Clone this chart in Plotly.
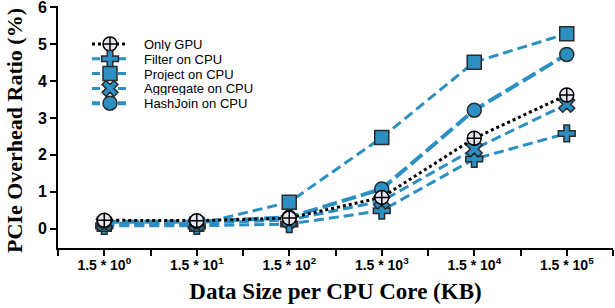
import plotly.graph_objects as go

categories = ["1.5 * 10<sup>0</sup>", "1.5 * 10<sup>1</sup>", "1.5 * 10<sup>2</sup>",
              "1.5 * 10<sup>3</sup>", "1.5 * 10<sup>4</sup>", "1.5 * 10<sup>5</sup>"]
x_pos = [0, 1, 2, 3, 4, 5]

only_gpu = [0.23, 0.22, 0.29, 0.85, 2.45, 3.62]
filter_cpu = [0.08, 0.08, 0.13, 0.49, 1.89, 2.58]
project_cpu = [0.12, 0.12, 0.72, 2.47, 4.51, 5.28]
aggregate_cpu = [0.15, 0.15, 0.24, 0.75, 2.16, 3.37]
hashjoin_cpu = [0.19, 0.19, 0.31, 1.08, 3.21, 4.72]

y_title = "PCIe Overhead Ratio (%)"
x_title = "Data Size per CPU Core (KB)"

BLUE = "#2b8fc2"
EDGE = "#2a2a2a"

series = [
    dict(name="Only GPU", y=only_gpu, color="black", symbol="circle-cross", dash="dot",
         width=3, fill="#e6e4ef", edge="black"),
    dict(name="Filter on CPU", y=filter_cpu, color=BLUE, symbol="cross", dash="10px,5px",
         width=3, fill=BLUE, edge=EDGE),
    dict(name="Project on CPU", y=project_cpu, color=BLUE, symbol="square", dash="10px,5px",
         width=3, fill=BLUE, edge=EDGE),
    dict(name="Aggregate on CPU", y=aggregate_cpu, color=BLUE, symbol="x", dash="10px,5px",
         width=3, fill=BLUE, edge=EDGE),
    dict(name="HashJoin on CPU", y=hashjoin_cpu, color=BLUE, symbol="circle", dash="15px,5px",
         width=4, fill=BLUE, edge=EDGE),
]

fig = go.Figure()

# data traces (Only GPU drawn last so it sits on top)
for s in series[1:] + series[:1]:
    fig.add_trace(go.Scatter(
        x=x_pos, y=s["y"], name=s["name"], mode="lines+markers", showlegend=False,
        line=dict(color=s["color"], width=s["width"], dash=s["dash"]),
        marker=dict(symbol=s["symbol"], size=14, color=s["fill"], line=dict(color=s["edge"], width=1.5)),
    ))

# compact legend drawn on an overlay axis measured in pixels of the figure
LEG_X0, LEG_XM, LEG_X1, LEG_TX = 92, 110, 128, 143
LEG_Y0, LEG_DY = 44, 14.8
for i, s in enumerate(series):
    yy = LEG_Y0 + i * LEG_DY
    fig.add_trace(go.Scatter(
        x=[LEG_X0, LEG_X1], y=[yy, yy], xaxis="x2", yaxis="y2",
        mode="lines", showlegend=False, hoverinfo="skip",
        line=dict(color=s["color"], width=s["width"], dash=s["dash"] if s["dash"] == "dot" else "8px,5px"),
    ))
    fig.add_trace(go.Scatter(
        x=[LEG_XM], y=[yy], xaxis="x2", yaxis="y2",
        mode="markers", showlegend=False, hoverinfo="skip",
        marker=dict(symbol=s["symbol"], size=14, color=s["fill"],
                    line=dict(color=s["edge"], width=1.5)),
    ))
    fig.add_annotation(x=LEG_TX, y=yy, xref="x2", yref="y2", text=s["name"],
                       showarrow=False, xanchor="left", yanchor="middle", height=14,
                       borderpad=0,
                       font=dict(family="Liberation Sans", size=13, color="black"))

# y-axis title as a rotated annotation (paper coords; plot area spans x 58..613, y 6..248 px)
fig.add_annotation(x=(14 - 58) / 555, y=(248 - 131) / 242, xref="paper", yref="paper",
                   text=y_title, textangle=-90,
                   showarrow=False, xanchor="center", yanchor="middle", borderpad=0,
                   font=dict(family="Liberation Serif", size=22, color="black", weight="bold"))

fig.update_layout(
    width=615, height=308,
    margin=dict(l=58, r=2, t=6, b=60),
    plot_bgcolor="white", paper_bgcolor="white",
    showlegend=False,
    xaxis=dict(
        range=[-0.5, 5.5], tickvals=x_pos, ticktext=categories, automargin=False,
        showline=True, linecolor="black", linewidth=2, showgrid=False, zeroline=False,
        ticks="outside", ticklen=6, tickwidth=2, tickcolor="black",
        ticklabelstandoff=-3, ticklabeloverflow="allow",
        tickfont=dict(family="Liberation Sans", size=14, color="black", weight="bold"),
        minor=dict(ticks="outside", ticklen=6, tickwidth=2, tickcolor="black", dtick=0.5, tick0=-0.5, showgrid=False),
        title=dict(text=x_title,
                   font=dict(family="Liberation Serif", size=23, color="black", weight="bold"),
                   standoff=11),
    ),
    yaxis=dict(
        range=[-0.52, 6.03], tickvals=[0, 1, 2, 3, 4, 5, 6], automargin=False,
        showline=True, linecolor="black", linewidth=2, showgrid=False, zeroline=False,
        ticks="outside", ticklen=6, tickwidth=2, tickcolor="black",
        ticklabeloverflow="allow",
        tickfont=dict(family="Liberation Sans", size=16, color="black", weight="bold"),
    ),
    xaxis2=dict(range=[58, 613], overlaying="x", visible=False, fixedrange=True),
    yaxis2=dict(range=[248, 6], overlaying="y", visible=False, fixedrange=True),
)

fig.write_html("out.html", config={"displayModeBar": False},
               post_script="document.body.style.margin='0';document.body.style.overflow='hidden';")
